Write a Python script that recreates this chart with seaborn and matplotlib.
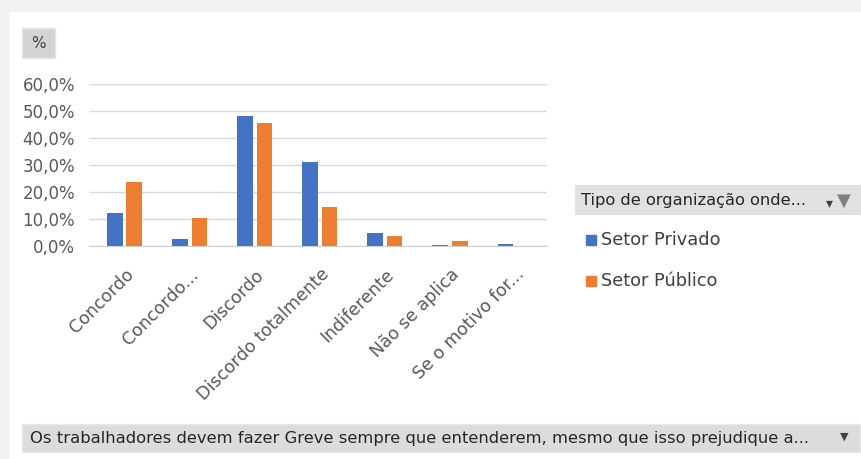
import pandas as pd
import numpy as np
import matplotlib.pyplot as plt
import seaborn as sns
from matplotlib.patches import Rectangle
from matplotlib.ticker import FuncFormatter

categories = ['Concordo', 'Concordo...', 'Discordo', 'Discordo totalmente',
              'Indiferente', 'Não se aplica', 'Se o motivo for...']
privado = [12.3, 2.7, 48.1, 31.2, 4.8, 0.5, 0.6]
publico = [23.7, 10.5, 45.7, 14.3, 3.7, 1.8, 0.0]
series = ['Setor Privado', 'Setor Público']
colors = ['#4472C4', '#ED7D31']
yticks = [0, 10, 20, 30, 40, 50, 60]

df = pd.DataFrame({
    'cat': categories * 2,
    'setor': [series[0]] * len(categories) + [series[1]] * len(categories),
    'val': [v / 100 for v in privado + publico],
})

sns.set_style('white')
plt.rcParams['font.family'] = ['DejaVu Sans']

W, H = 861, 459
fig = plt.figure(figsize=(W / 100, H / 100), dpi=100)

def fx(x):
    return x / W

def fy(y):
    return 1 - y / H

# outer frame (gray strips top/left)
fig.patches.append(Rectangle((0, fy(11)), 1, 11 / H, transform=fig.transFigure,
                             color='#f1f1f1', zorder=0))
fig.patches.append(Rectangle((0, 0), 8 / W, 1, transform=fig.transFigure,
                             color='#f1f1f1', zorder=0))

ax = fig.add_axes([fx(89), fy(246), (547 - 89) / W, (246 - 84) / H])
sns.barplot(data=df, x='cat', y='val', hue='setor', palette=colors,
            width=0.6, gap=0.2, saturation=1, linewidth=0, ax=ax, legend=False)
ax.set_ylim(0, 0.6)
ax.set_xlim(-0.545, 6.49)
ax.set_yticks([t / 100 for t in yticks])
ax.yaxis.set_major_formatter(FuncFormatter(lambda v, p: f'{v * 100:.1f}%'.replace('.', ',')))
ax.grid(axis='y', color='#d9d9d9', linewidth=1)
ax.set_axisbelow(True)
for s in ['top', 'right', 'left']:
    ax.spines[s].set_visible(False)
ax.spines['bottom'].set_color('#d0d0d0')
ax.tick_params(axis='both', length=0, colors='#595959', labelsize=12)
ax.tick_params(axis='y', pad=10)
ax.tick_params(axis='x', pad=14)
plt.setp(ax.get_xticklabels(), rotation=45, ha='right', rotation_mode='anchor',
         fontsize=12.5)
ax.set_xlabel('')
ax.set_ylabel('')

# "%" field button
fig.patches.append(Rectangle((fx(22), fy(58)), 33 / W, 30 / H, transform=fig.transFigure,
                             facecolor='#d4d4d4', edgecolor='#e6e6e6', zorder=1))
fig.text(fx(38.5), fy(43), '%', ha='center', va='center', fontsize=11,
         color='#404040')

# legend header
fig.patches.append(Rectangle((fx(575), fy(215)), (861 - 575) / W, 30 / H,
                             transform=fig.transFigure, facecolor='#e1e1e1',
                             edgecolor='none', zorder=1))
fig.text(fx(581), fy(200), 'Tipo de organização onde...', ha='left', va='center',
         fontsize=11.7, color='#262626')
fig.text(fx(826), fy(203), '▾', ha='left', va='center', fontsize=10, color='#404040')
fig.text(fx(837), fy(201), '▼', ha='left', va='center', fontsize=13, color='#7f7f7f')

# legend entries
for i, (name, c) in enumerate(zip(series, colors)):
    yc = 240 + i * 41
    fig.patches.append(Rectangle((fx(586), fy(yc + 5)), 10 / W, 10 / H,
                                 transform=fig.transFigure, color=c, zorder=1))
    fig.text(fx(601), fy(yc), name, ha='left', va='center', fontsize=12.8,
             color='#404040')

# bottom field button
fig.patches.append(Rectangle((fx(22), fy(452)), (860 - 22) / W, 28 / H,
                             transform=fig.transFigure, facecolor='#dcdcdc',
                             edgecolor='#e8e8e8', zorder=1))
fig.text(fx(30), fy(438),
         'Os trabalhadores devem fazer Greve sempre que entenderem, mesmo que isso prejudique a...',
         ha='left', va='center', fontsize=11.8, color='#262626')
fig.text(fx(840), fy(437), '▼', ha='left', va='center', fontsize=8, color='#404040')

fig.savefig('out.png', dpi=100)
